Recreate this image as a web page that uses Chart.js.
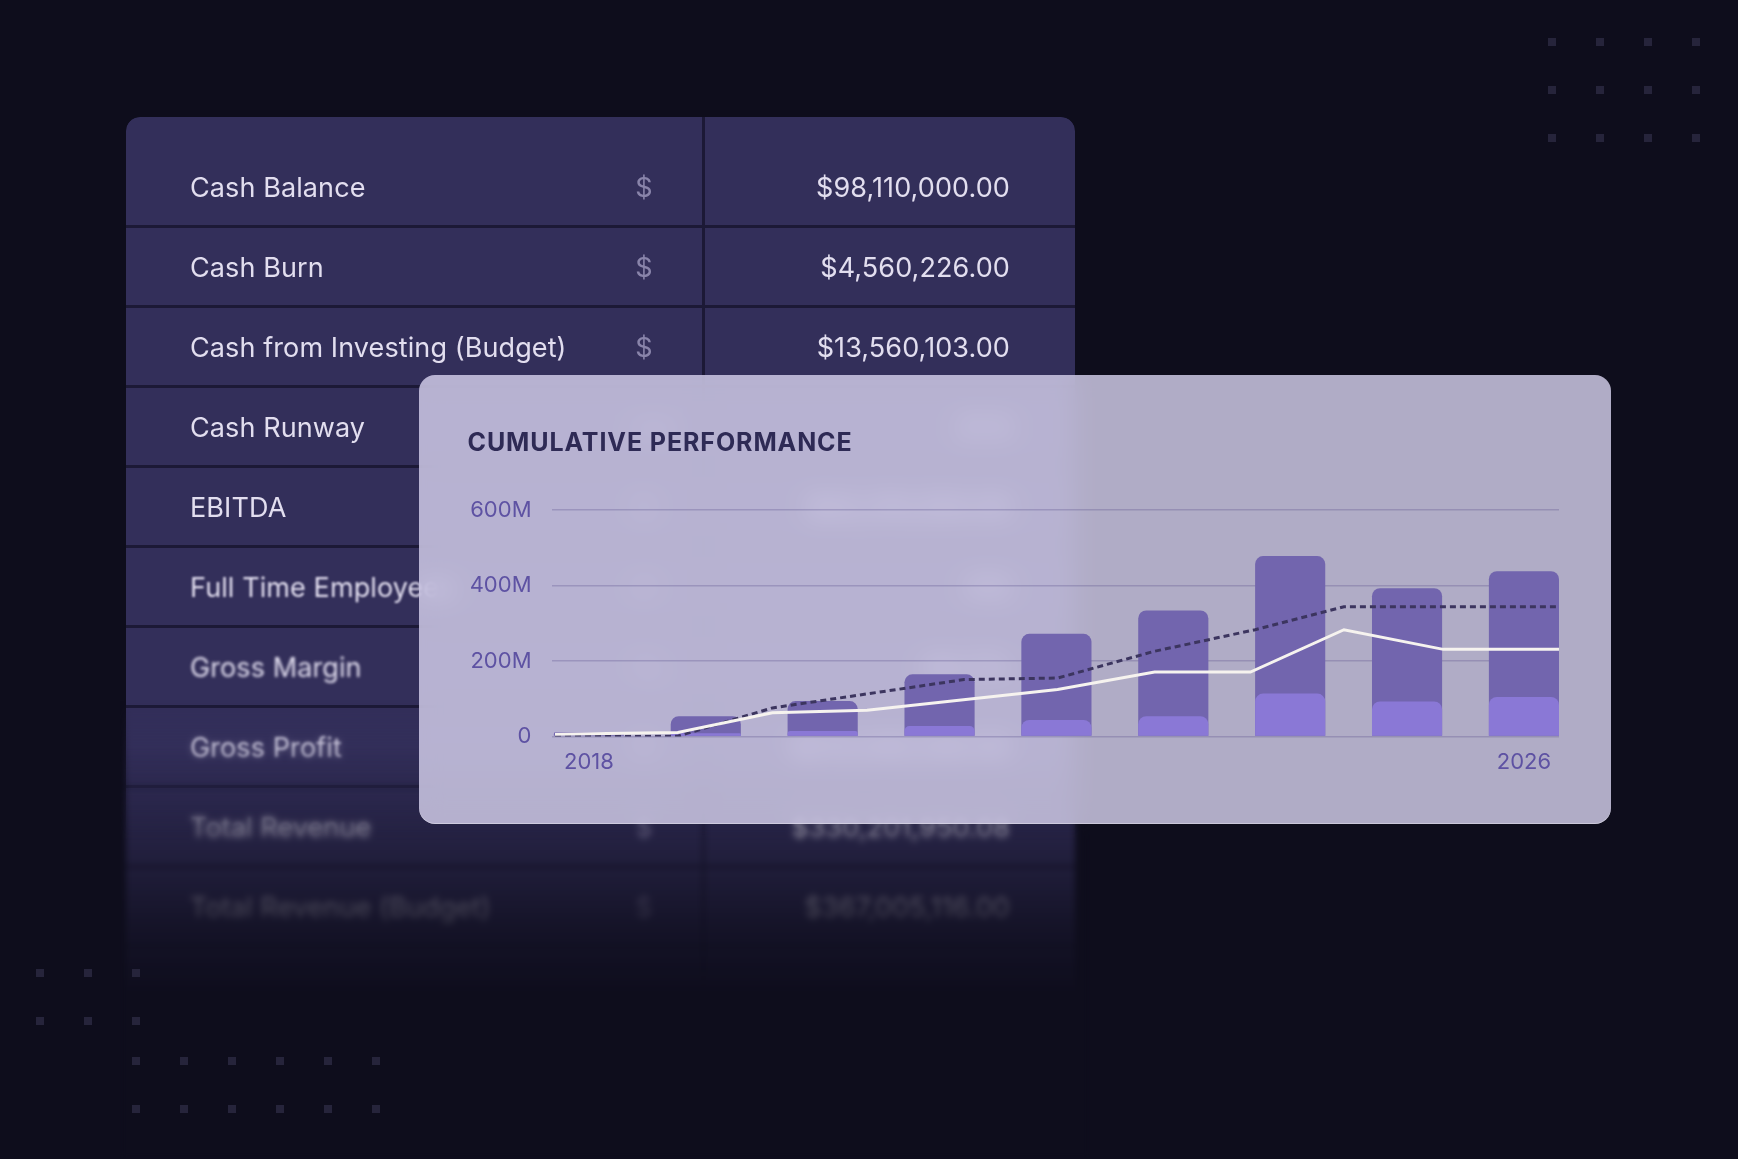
<!DOCTYPE html>
<html>
<head>
<meta charset="utf-8">
<script src="https://cdn.jsdelivr.net/npm/chart.js@4.4.1/dist/chart.umd.min.js"></script>
<style>
  html, body { margin: 0; padding: 0; width: 1738px; height: 1159px; overflow: hidden; background: #0e0d1c; font-family: Inter, "Noto Sans", sans-serif; }
  .dot { position: absolute; width: 8px; height: 8px; background: #26243b; filter: blur(0.6px); z-index: 3; }
  .table { position: absolute; left: 126px; top: 117px; width: 949px; height: 1000px; background: #332f5a; border-radius: 14px 14px 0 0; padding-top: 31px; box-sizing: border-box;
    -webkit-mask-image: linear-gradient(to bottom, #000 0px, #000 630px, rgba(0,0,0,0.6) 725px, rgba(0,0,0,0.2) 810px, rgba(0,0,0,0) 880px); }
  .table .divider { position: absolute; left: 576px; top: 0; width: 3px; height: 100%; background: #1c1936; }
  .row { position: relative; height: 80px; border-bottom: 3px solid #1c1936; box-sizing: border-box; display: flex; align-items: center; color: #e2deef; font-size: 27px; letter-spacing: 0.1px; }
  .row span { position: absolute; top: 24px; line-height: 32px; }
  .row .name { left: 64px; }
  .row .unit { left: 508px; width: 20px; text-align: center; color: #8984aa; }
  .row .val { right: 65px; }
  .fade { position: absolute; left: 120px; top: 700px; width: 970px; height: 459px; backdrop-filter: blur(3px); -webkit-backdrop-filter: blur(3px);
    -webkit-mask-image: linear-gradient(to bottom, rgba(0,0,0,0) 0px, #000 140px); z-index: 1; }
  .card { position: absolute; left: 419px; top: 375px; width: 1192px; height: 449px; border-radius: 16px; background: rgba(214, 209, 238, 0.81); backdrop-filter: blur(12px); -webkit-backdrop-filter: blur(12px); overflow: hidden; box-shadow: inset 0 -1px 0 rgba(255,255,255,0.35); z-index: 2; }
  .card canvas { position: absolute; left: 0; top: 0; }
</style>
</head>
<body>
<div class="table" id="table"><div class="divider"></div></div>
<div class="fade"></div>
<div class="card"><canvas id="chart" width="1192" height="449"></canvas></div>
<script>
// chart data (values in millions)
const years = [2018, 2019, 2020, 2021, 2022, 2023, 2024, 2025, 2026];
const totalValues = [12, 54, 94, 165, 272, 334, 478, 393, 438];
const baseValues = [2, 9, 15, 28, 44, 54, 114, 93, 105];

const actualX = [2017.71, 2018.76, 2019.57, 2020.38, 2022.01, 2022.84, 2023.66, 2024.46, 2025.31, 2026.3];
const actualValues = [6, 11, 63, 70, 125, 171, 171, 283, 231, 231];
const budgetX = [2017.71, 2018.76, 2019.57, 2021.21, 2022.01, 2022.84, 2023.7, 2024.46, 2026.3];
const budgetValues = [1, 1, 76, 151, 155, 226, 283, 344, 344];

const xTickYears = [2018, 2026];
const yTickValues = [0, 200, 400, 600];
const yTickLabels = ["0", "200M", "400M", "600M"];
const chartTitle = "CUMULATIVE PERFORMANCE";

// background table
const rowNames = ["Cash Balance", "Cash Burn", "Cash from Investing (Budget)", "Cash Runway", "EBITDA",
  "Full Time Employees", "Gross Margin", "Gross Profit", "Total Revenue", "Total Revenue (Budget)"];
const rowUnits = ["$", "$", "$", "mo", "$", "#", "%", "$", "$", "$"];
const rowValues = ["$98,110,000.00", "$4,560,226.00", "$13,560,103.00", "21.5", "$42,310,550.00",
  "312", "64.2%", "$212,040,330.00", "$330,201,950.08", "$367,005,116.00"];
const rowBlur = [0, 0, 0, 0.3, 0.6, 1.2, 1.6, 1.8, 1.4, 1.4];

const table = document.getElementById("table");
rowNames.forEach((name, i) => {
  const row = document.createElement("div");
  row.className = "row";
  row.innerHTML = `<span class="name">${name}</span><span class="unit">${rowUnits[i]}</span><span class="val">${rowValues[i]}</span>`;
  row.querySelectorAll("span").forEach(s => s.style.filter = `blur(${rowBlur[i]}px)`);
  table.appendChild(row);
});

// decorative dot grids
function dotGrid(x0, y0, cols, rows) {
  for (let r = 0; r < rows; r++) {
    for (let c = 0; c < cols; c++) {
      const d = document.createElement("div");
      d.className = "dot";
      d.style.left = (x0 + c * 48) + "px";
      d.style.top = (y0 + r * 48) + "px";
      document.body.appendChild(d);
    }
  }
}
dotGrid(1548, 38, 4, 3);
dotGrid(36, 969, 3, 2);
dotGrid(132, 1057, 6, 2);

const labelColor = "#5e52a3";
const font = { family: "Inter", size: 22 };

// title drawn on the canvas with a little letter spacing
const titlePlugin = {
  id: "cardTitle",
  afterDraw(chart) {
    const ctx = chart.ctx;
    ctx.save();
    ctx.font = "700 25px Inter";
    ctx.letterSpacing = "0.9px";
    ctx.fillStyle = "#2e2a55";
    ctx.textBaseline = "alphabetic";
    ctx.fillText(chartTitle, 48.5, 76);
    ctx.restore();
  }
};

new Chart(document.getElementById("chart").getContext("2d"), {
  type: "bar",
  data: {
    datasets: [
      {
        type: "line",
        label: "Actual",
        data: actualX.map((x, i) => ({ x: x, y: actualValues[i] })),
        borderColor: "#f6f3ef",
        borderWidth: 3,
        pointRadius: 0,
        tension: 0,
        order: 0
      },
      {
        type: "line",
        label: "Budget",
        data: budgetX.map((x, i) => ({ x: x, y: budgetValues[i] })),
        borderColor: "#3c355f",
        borderWidth: 3,
        borderDash: [6, 4],
        pointRadius: 0,
        tension: 0,
        order: 1
      },
      {
        label: "Base",
        data: years.map((x, i) => ({ x: x, y: baseValues[i] })),
        backgroundColor: "#8a78d6",
        borderRadius: 8,
        grouped: false,
        barPercentage: 0.6,
        categoryPercentage: 1,
        order: 2
      },
      {
        label: "Total",
        data: years.map((x, i) => ({ x: x, y: totalValues[i] })),
        backgroundColor: "#7265ae",
        borderRadius: 8,
        grouped: false,
        barPercentage: 0.6,
        categoryPercentage: 1,
        order: 3
      }
    ]
  },
  plugins: [titlePlugin],
  options: {
    responsive: false,
    animation: false,
    layout: { padding: { left: 48.5, right: 52, top: 135, bottom: 35 } },
    plugins: {
      legend: { display: false },
      tooltip: { enabled: false },
      title: { display: false }
    },
    scales: {
      x: {
        type: "linear",
        min: 2017.68,
        max: 2026.3,
        offset: false,
        grid: { display: false, drawTicks: false },
        border: { display: false },
        afterBuildTicks: axis => { axis.ticks = xTickYears.map(v => ({ value: v })); },
        ticks: { color: labelColor, font: font, padding: 13, maxRotation: 0, autoSkip: false, callback: v => String(v) }
      },
      y: {
        min: 0,
        max: 600,
        afterBuildTicks: axis => { axis.ticks = yTickValues.map(v => ({ value: v })); },
        afterFit: axis => { axis.width = 84; },
        grid: { color: "rgba(72, 62, 128, 0.26)", lineWidth: 1.5, drawTicks: false },
        border: { display: false },
        ticks: { color: labelColor, font: font, padding: 20, callback: v => yTickLabels[yTickValues.indexOf(v)] }
      }
    }
  }
});
</script>
</body>
</html>
